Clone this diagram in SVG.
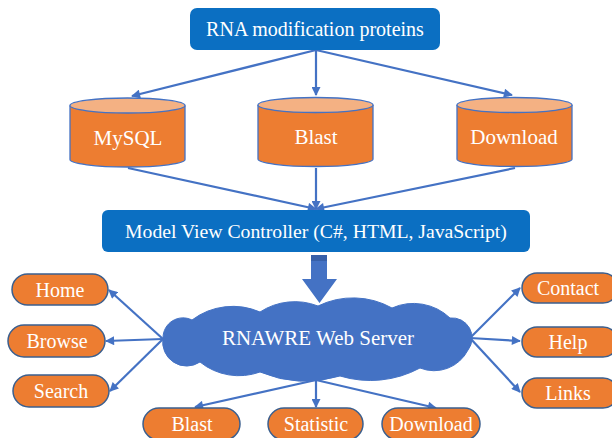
<svg xmlns="http://www.w3.org/2000/svg" width="612" height="438" viewBox="0 0 612 438">
<style>
.box{fill:#0B6FC2;}
text{font-family:'Liberation Serif','DejaVu Serif',serif;fill:#ffffff;text-anchor:middle;}
.body{fill:#ED7D31;stroke:#4472C4;stroke-width:1.3;}
.top{fill:#F4B183;stroke:#4472C4;stroke-width:1.3;}
.pill{fill:#ED7D31;stroke:#3B5F8E;stroke-width:1.5;}
.c{stroke:#4472C4;stroke-width:2.2;fill:none;marker-end:url(#ah);}
</style>
<defs>
<marker id="ah" viewBox="0 0 10 10" refX="9" refY="5" markerWidth="10" markerHeight="9" markerUnits="userSpaceOnUse" orient="auto">
<path d="M0,0 L10,5 L0,10 Z" fill="#4472C4"/>
</marker>
</defs>
<rect width="612" height="438" fill="#ffffff"/>

<g id="connectors">
<path class="c" d="M316,50 L132,96"/>
<path class="c" d="M316,50 L316,95"/>
<path class="c" d="M316,50 L512,95"/>
<path class="c" d="M128,168 L316,209"/>
<path class="c" d="M316,168 L316,209"/>
<path class="c" d="M515,168 L316,209"/>
<path class="c" d="M163,339 L109,290"/>
<path class="c" d="M163,339 L106,341"/>
<path class="c" d="M163,339 L110,391"/>
<path class="c" d="M470,338 L520,288"/>
<path class="c" d="M470,338 L520,341"/>
<path class="c" d="M470,338 L520,392"/>
<path class="c" d="M316,380 L195,407"/>
<path class="c" d="M316,380 L316,407"/>
<path class="c" d="M316,380 L436,408"/>
</g>

<g id="rna">
<rect class="box" x="190" y="8" width="250" height="42" rx="7"/>
<text x="315" y="36" font-size="20">RNA modification proteins</text>
</g>

<g id="mysql">
<path class="body" d="M70,105.5 L70,159.5 A57.5,7.5 0 0 0 185,159.5 L185,105.5"/>
<ellipse class="top" cx="127.5" cy="105.5" rx="57.5" ry="7.5"/>
<text x="128" y="145" font-size="21">MySQL</text>
</g>
<g id="blast-db">
<path class="body" d="M258,105 L258,159 A57.5,7.5 0 0 0 373,159 L373,105"/>
<ellipse class="top" cx="315.5" cy="105" rx="57.5" ry="7.5"/>
<text x="316" y="144" font-size="21">Blast</text>
</g>
<g id="download-db">
<path class="body" d="M457,105 L457,159 A57.5,7.5 0 0 0 572,159 L572,105"/>
<ellipse class="top" cx="514.5" cy="105" rx="57.5" ry="7.5"/>
<text x="514" y="144" font-size="21">Download</text>
</g>

<g id="mvc">
<rect class="box" x="102" y="210" width="428" height="42" rx="6"/>
<text x="316" y="238" font-size="19.7">Model View Controller (C#, HTML, JavaScript)</text>
</g>

<g id="block-arrow">
<polygon points="311,255 327,255 327,279 337,279 319.5,303 302,279 311,279" fill="#4472C4"/>
<rect x="311" y="255" width="16" height="6" fill="#2F5597" opacity="0.6"/>
</g>

<g id="server">
<path d="M163,338 A20,20 0 0 1 192,320 A68,68 0 0 1 260,312 A64,64 0 0 1 318,306 A80,80 0 0 1 392,308 A53,53 0 0 1 450,318 A20,20 0 0 1 468,350 A38,38 0 0 1 420,368 A105,105 0 0 1 340,376 A118,118 0 0 1 260,372 A62,62 0 0 1 200,362 A24,24 0 0 1 163,338 Z" fill="#4472C4" stroke="#4472C4" stroke-width="1"/>
<text x="318" y="345" font-size="21">RNAWRE Web Server</text>
</g>

<g id="home">
<rect class="pill" x="12" y="274" width="96" height="31" rx="15.5"/>
<text x="60" y="297" font-size="20">Home</text>
</g>
<g id="browse">
<rect class="pill" x="8" y="325" width="97" height="32" rx="16"/>
<text x="57" y="348" font-size="20">Browse</text>
</g>
<g id="search">
<rect class="pill" x="13" y="375" width="96" height="32" rx="16"/>
<text x="61" y="398" font-size="20">Search</text>
</g>

<g id="contact">
<rect class="pill" x="522" y="273" width="96" height="30" rx="15"/>
<text x="568" y="295" font-size="20">Contact</text>
</g>
<g id="help">
<rect class="pill" x="522" y="327" width="96" height="30" rx="15"/>
<text x="568" y="349" font-size="20">Help</text>
</g>
<g id="links">
<rect class="pill" x="522" y="378" width="96" height="30" rx="15"/>
<text x="568" y="400" font-size="20">Links</text>
</g>

<g id="blast">
<rect class="pill" x="143" y="408" width="97" height="32" rx="16"/>
<text x="192" y="431" font-size="20">Blast</text>
</g>
<g id="statistic">
<rect class="pill" x="268" y="408" width="95" height="32" rx="16"/>
<text x="316" y="431" font-size="20">Statistic</text>
</g>
<g id="download">
<rect class="pill" x="382" y="408" width="98" height="32" rx="16"/>
<text x="431" y="431" font-size="20">Download</text>
</g>
</svg>
